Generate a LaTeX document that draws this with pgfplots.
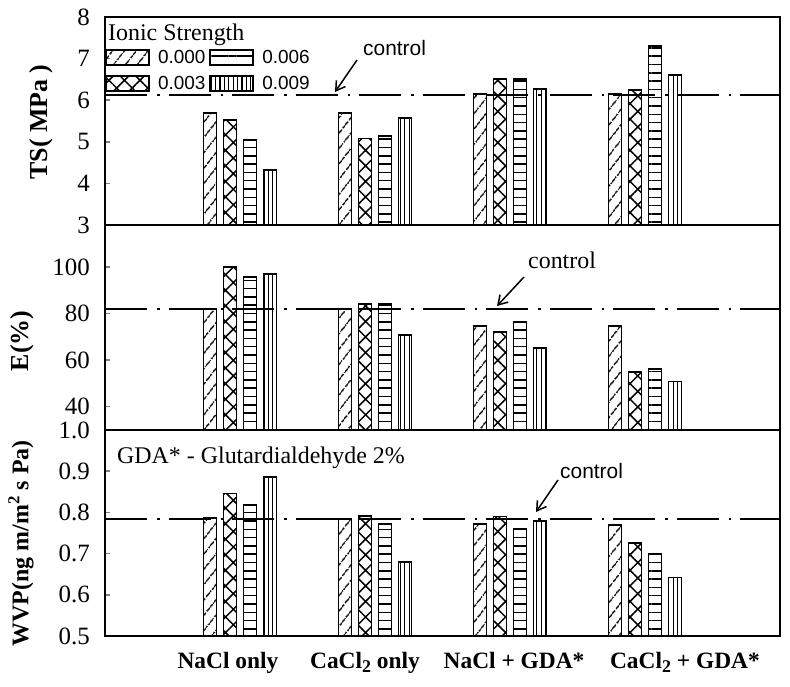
\documentclass[border=0pt]{standalone}
\usepackage{fontspec}
\setmainfont{Liberation Serif}
\newfontfamily\sansf{Liberation Sans}
\usepackage{pgfplots}
\pgfplotsset{compat=1.18}
\usetikzlibrary{patterns.meta,arrows.meta}

\pgfplotsset{
  panel/.style={
    scale only axis, width=675bp, xmin=0, xmax=5,
    xtick={1,2,3,4}, xticklabels={}, xtick style={draw=none},
    ytick pos=left, tick align=inside, major tick length=5bp,
    axis line style={line width=1.8bp},
    ytick style={line width=1.5bp},
    yticklabel style={font=\fontsize{25}{25}\selectfont, inner sep=0pt, xshift=-15bp,
      /pgf/number format/assume math mode=true},
    ylabel style={font=\bfseries\fontsize{26}{26}\selectfont, anchor=center},
    bar width=13bp,
  },
  barA/.style={ybar, bar shift=-30bp, draw=black, line width=1.9bp,
    pattern={Lines[angle=52,distance=9.5bp,line width=1.5bp]}},
  barB/.style={ybar, bar shift=-10bp, draw=black, line width=1.9bp,
    pattern={Hatch[angle=45,distance=11bp,line width=1.5bp]}},
  barC/.style={ybar, bar shift=10bp, draw=black, line width=1.9bp,
    pattern={Lines[angle=0,distance=8.3bp,line width=1.5bp]}},
  barD/.style={ybar, bar shift=30bp, draw=black, line width=1.9bp,
    pattern={Lines[angle=90,distance=4.4bp,line width=1.2bp]}},
  ctrl/.style={black, line width=2bp, dash pattern=on 42bp off 10bp on 2.5bp off 9bp, forget plot},
}

\begin{document}
\begin{tikzpicture}
\useasboundingbox (0,0) rectangle (790bp,-687bp);

% ---------------- TS panel ----------------
\begin{axis}[panel, at={(105bp,-17bp)}, anchor=north west, height=208bp,
  ymin=3, ymax=8, ytick={3,4,5,6,7,8},
  ylabel={TS( MPa )}, ylabel style={at={(rel axis cs:-0.0948,0.495)}},
  legend columns=2, transpose legend,
  legend image code/.code={\draw[#1] (0bp,-7.5bp) rectangle (43bp,7.5bp);},
  legend style={draw=none, fill=none, at={(0,0.846)}, anchor=north west,
    font=\sansf\fontsize{19}{19}\selectfont, inner sep=0pt, row sep=9bp,
    nodes={inner ysep=1bp},
    /tikz/every odd column/.append style={column sep=6bp},
    /tikz/every even column/.append style={column sep=2bp}},
]
\addplot[barA] coordinates {(1,5.70) (2,5.69) (3,6.15) (4,6.14)};
\addplot[barB] coordinates {(1,5.53) (2,5.08) (3,6.51) (4,6.24)};
\addplot[barC] coordinates {(1,5.05) (2,5.13) (3,6.51) (4,7.30)};
\addplot[barD] coordinates {(1,4.32) (2,5.57) (3,6.26) (4,6.60)};
\addplot[ctrl] coordinates {(0,6.12) (5,6.12)};
\legend{0.000,0.003,0.006,0.009}
\end{axis}

% ---------------- E panel ----------------
\begin{axis}[panel, at={(105bp,-225bp)}, anchor=north west, height=205bp,
  ymin=30, ymax=118, ytick={40,60,80,100},
  ylabel={E(\%)}, ylabel style={at={(rel axis cs:-0.123,0.434)}},
]
\addplot[barA] coordinates {(1,82.1) (2,82.0) (3,74.8) (4,74.7)};
\addplot[barB] coordinates {(1,100.0) (2,83.9) (3,72.0) (4,54.8)};
\addplot[barC] coordinates {(1,95.6) (2,83.9) (3,76.3) (4,56.2)};
\addplot[barD] coordinates {(1,96.8) (2,70.8) (3,65.2) (4,50.8)};
\addplot[ctrl] coordinates {(0,82.0) (5,82.0)};
\end{axis}

% ---------------- WVP panel ----------------
\begin{axis}[panel, at={(105bp,-430bp)}, anchor=north west, height=206bp,
  ymin=0.5, ymax=1.0, ytick={0.5,0.6,0.7,0.8,0.9,1.0},
  yticklabels={0.5,0.6,0.7,0.8,0.9,1.0},
  ylabel={WVP(ng m/m\textsuperscript{2} s Pa)},
  ylabel style={at={(rel axis cs:-0.1244,0.45)}, font=\bfseries\fontsize{24}{24}\selectfont},
  xtick={0.911,1.926,3.03,4.296},
  xticklabels={NaCl only,
    CaCl\raisebox{-0.35ex}{\fontsize{18}{18}\selectfont 2} only,
    NaCl + GDA*,
    CaCl\raisebox{-0.35ex}{\fontsize{18}{18}\selectfont 2} + GDA*},
  xticklabel style={font=\bfseries\fontsize{23.5}{23.5}\selectfont, yshift=-13bp},
]
\addplot[barA] coordinates {(1,0.786) (2,0.783) (3,0.771) (4,0.769)};
\addplot[barB] coordinates {(1,0.846) (2,0.791) (3,0.790) (4,0.726)};
\addplot[barC] coordinates {(1,0.817) (2,0.771) (3,0.759) (4,0.699)};
\addplot[barD] coordinates {(1,0.886) (2,0.680) (3,0.779) (4,0.642)};
\addplot[ctrl] coordinates {(0,0.785) (5,0.785)};
\end{axis}

% ---------------- annotations ----------------
\node[anchor=base west, inner sep=0pt, font=\fontsize{24}{24}\selectfont] at (108bp,-40bp) {Ionic Strength};
\node[anchor=base west, inner sep=0pt, font=\sansf\fontsize{21}{21}\selectfont] at (363bp,-55bp) {control};
\draw[line width=1.5bp, -{Straight Barb[length=9bp,width=11bp]}] (357bp,-60bp) -- (335bp,-92bp);
\node[anchor=base west, inner sep=0pt, font=\fontsize{24}{24}\selectfont] at (528bp,-268bp) {control};
\draw[line width=1.5bp, -{Straight Barb[length=9bp,width=11bp]}] (524bp,-277bp) -- (497bp,-306bp);
\node[anchor=base west, inner sep=0pt, font=\fontsize{24}{24}\selectfont] at (117bp,-463bp) {GDA* - Glutardialdehyde 2\%};
\node[anchor=base west, inner sep=0pt, font=\sansf\fontsize{21}{21}\selectfont] at (560bp,-478bp) {control};
\draw[line width=1.5bp, -{Straight Barb[length=9bp,width=11bp]}] (558bp,-480bp) -- (536bp,-512bp);
\end{tikzpicture}
\end{document}
